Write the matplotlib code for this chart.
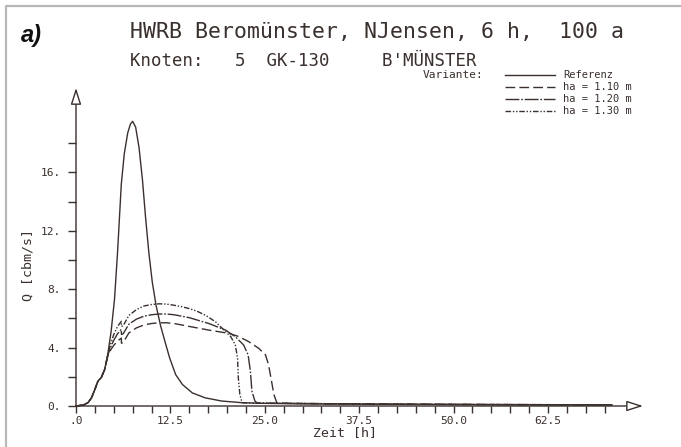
import matplotlib
matplotlib.use("Agg")
import matplotlib.pyplot as plt
from matplotlib.lines import Line2D
from matplotlib.patches import FancyArrowPatch

# ---------------- data ----------------
t_ref = [0, 1.0, 1.6, 2.05, 2.5, 2.9, 3.35, 3.8, 4.2, 4.65, 5.1, 5.5, 6.0, 6.4, 6.85,
         7.2, 7.5, 7.9, 8.35, 8.8, 9.2, 9.65, 10.1, 10.6, 11.2, 11.9, 12.4, 13.2, 14.1,
         15.4, 17.1, 19.3, 21.9, 25, 30, 40, 50, 60, 71]
q_ref = [0, 0.07, 0.23, 0.56, 1.13, 1.7, 1.95, 2.5, 3.5, 5.1, 7.3, 10.5, 15.2, 17.3, 18.7,
         19.3, 19.5, 19.1, 17.7, 15.5, 13.0, 10.5, 8.5, 6.9, 5.5, 4.2, 3.3, 2.15, 1.47,
         0.9, 0.56, 0.34, 0.23, 0.18, 0.15, 0.12, 0.1, 0.09, 0.08]

t_110 = [0, 1.0, 1.6, 2.05, 2.5, 2.9, 3.35, 3.8, 4.2, 4.6, 5.0, 5.5, 6.0, 6.02, 6.25, 7.0,
         8.0, 9.0, 10.0, 11.0, 12.0, 13.0, 15.0, 17.6, 20.3, 21.6, 22.9, 24.2, 25.1, 25.5,
         25.9, 26.2, 26.6, 28, 35, 45, 55, 71]
q_110 = [0, 0.07, 0.23, 0.56, 1.13, 1.7, 1.95, 2.5, 3.4, 3.85, 4.15, 4.45, 4.65, 4.3, 4.35, 5.0,
         5.35, 5.55, 5.65, 5.7, 5.7, 5.65, 5.45, 5.2, 4.97, 4.75, 4.4, 3.95, 3.5, 2.83,
         1.7, 0.8, 0.22, 0.18, 0.15, 0.12, 0.1, 0.08]

t_120 = [0, 1.0, 1.6, 2.05, 2.5, 2.9, 3.35, 3.8, 4.2, 4.6, 5.0, 5.5, 6.0, 6.02, 6.25, 7.0,
         8.0, 9.0, 10.0, 11.0, 12.0, 13.0, 15.0, 17.6, 19.8, 21.1, 22.2, 22.8, 23.1, 23.3,
         23.7, 24.0, 28, 35, 45, 55, 71]
q_120 = [0, 0.07, 0.23, 0.56, 1.13, 1.7, 1.95, 2.5, 3.45, 4.05, 4.5, 4.95, 5.25, 4.9, 4.95, 5.6,
         5.95, 6.15, 6.25, 6.3, 6.3, 6.25, 6.05, 5.65, 5.2, 4.75, 4.18, 3.5, 2.37, 1.0,
         0.34, 0.2, 0.18, 0.15, 0.12, 0.1, 0.08]

t_130 = [0, 1.0, 1.6, 2.05, 2.5, 2.9, 3.35, 3.8, 4.2, 4.6, 5.0, 5.5, 6.0, 6.02, 6.25, 7.0,
         8.0, 9.0, 10.0, 11.0, 12.0, 13.0, 14.0, 15.0, 16.0, 17.2, 18.5, 19.6, 20.5, 21.1,
         21.4, 21.5, 21.7, 22.0, 23.0, 28, 35, 45, 55, 71]
q_130 = [0, 0.07, 0.23, 0.56, 1.13, 1.7, 1.95, 2.5, 3.5, 4.25, 4.9, 5.45, 5.8, 5.45, 5.5, 6.2,
         6.6, 6.85, 6.95, 7.0, 6.98, 6.9, 6.8, 6.67, 6.5, 6.2, 5.76, 5.2, 4.75, 4.18,
         3.27, 1.92, 0.8, 0.22, 0.2, 0.18, 0.15, 0.12, 0.1, 0.08]

series_labels = ["Referenz", "ha = 1.10 m", "ha = 1.20 m", "ha = 1.30 m"]
x_ticks_major = [0, 12.5, 25.0, 37.5, 50.0, 62.5]
x_tick_labels = [".0", "12.5", "25.0", "37.5", "50.0", "62.5"]
y_ticks_major = [0, 4, 8, 12, 16]
y_tick_labels = ["0.", "4.", "8.", "12.", "16."]

# ---------------- layout ----------------
W, H = 681, 447
INK = "#3a302d"
MONO = ["DejaVu Sans Mono"]

fig = plt.figure(figsize=(W / 100, H / 100), dpi=100)
fig.patch.set_facecolor("white")


def fx(x):
    return x / W


def fy(y):
    return 1 - y / H


x0_px, x1_px = 76, 643
y0_px, y1_px = 406, 88
px_per_h = 7.55
px_per_q = 14.6
ax = fig.add_axes([fx(x0_px), fy(y0_px), (x1_px - x0_px) / W, (y0_px - y1_px) / H])
ax.set_xlim(0, (x1_px - x0_px) / px_per_h)
ax.set_ylim(0, (y0_px - y1_px) / px_per_q)
ax.patch.set_alpha(0)
for s in ax.spines.values():
    s.set_visible(False)

styles = [
    dict(linestyle="-"),
    dict(linestyle=(0, (7, 3))),
    dict(linestyle=(0, (10, 1.3, 1.2, 1.3))),
    dict(linestyle=(0, (4, 1.3, 1, 1.3, 1, 1.3))),
]
data = [(t_ref, q_ref), (t_110, q_110), (t_120, q_120), (t_130, q_130)]
for (t, q), st in zip(data, styles):
    ax.plot(t, q, color=INK, lw=1.0, **st, clip_on=False)

# axes with hollow arrow heads
xmax = ax.get_xlim()[1]
ymax = ax.get_ylim()[1]
for tip in [(xmax, 0), (0, ymax)]:
    arr = FancyArrowPatch((0, 0), tip, arrowstyle="-|>,head_length=1.0,head_width=0.32",
                          mutation_scale=10, fc="white", ec=INK, lw=1.0,
                          shrinkA=0, shrinkB=0, transform=ax.transData, clip_on=False,
                          zorder=5)
    ax.add_patch(arr)

# ticks
minor_x = [2.5 * i for i in range(0, 29)]
ax.set_xticks(x_ticks_major)
ax.set_xticklabels(x_tick_labels, fontfamily=MONO, fontsize=8, color=INK)
ax.set_xticks(minor_x, minor=True)
ax.tick_params(axis="x", which="both", direction="out", length=5, width=1.0, color=INK, pad=2)
ax.set_yticks(y_ticks_major)
ax.set_yticklabels(y_tick_labels, fontfamily=MONO, fontsize=8, color=INK)
ax.set_yticks([2 * i for i in range(0, 10)], minor=True)
ax.tick_params(axis="y", which="both", direction="out", length=6, width=1.0, color=INK, pad=5)

# axis labels
fig.text(fx(28), fy(265), "Q [cbm/s]", rotation=90, ha="center", va="center",
         family=MONO, fontsize=9.5, color=INK)
fig.text(fx(313), fy(433), "Zeit [h]", ha="left", va="center",
         family=MONO, fontsize=9.5, color=INK)

# titles
fig.text(fx(21), fy(42), "a)", ha="left", va="baseline", family=["Liberation Sans"],
         fontsize=17, fontweight="bold", fontstyle="italic", color="#111111")
fig.text(fx(130), fy(38), "HWRB Beromünster, NJensen, 6 h,  100 a", ha="left",
         va="baseline", family=MONO, fontsize=15.5, color=INK)
fig.text(fx(130), fy(66), "Knoten:   5  GK-130     B'MÜNSTER", ha="left",
         va="baseline", family=MONO, fontsize=12.5, color=INK)

# legend
rows = [75, 87, 99, 111]
fig.text(fx(483), fy(rows[0]), "Variante:", ha="right", va="center", family=MONO,
         fontsize=8, color=INK)
for lab, st, ry in zip(series_labels, styles, rows):
    fig.add_artist(Line2D([fx(505), fx(555)], [fy(ry), fy(ry)], color=INK, lw=1.0,
                          transform=fig.transFigure, **st))
    fig.text(fx(563), fy(ry), lab, ha="left", va="center", family=MONO,
             fontsize=7.5, color=INK)

# scan frame (left and top edges)
fig.add_artist(Line2D([fx(6), fx(6), fx(681)], [fy(447), fy(6), fy(6)], color="#b8b8b8",
                      lw=1.6, transform=fig.transFigure))

fig.savefig("out.png", dpi=100, facecolor="white")
